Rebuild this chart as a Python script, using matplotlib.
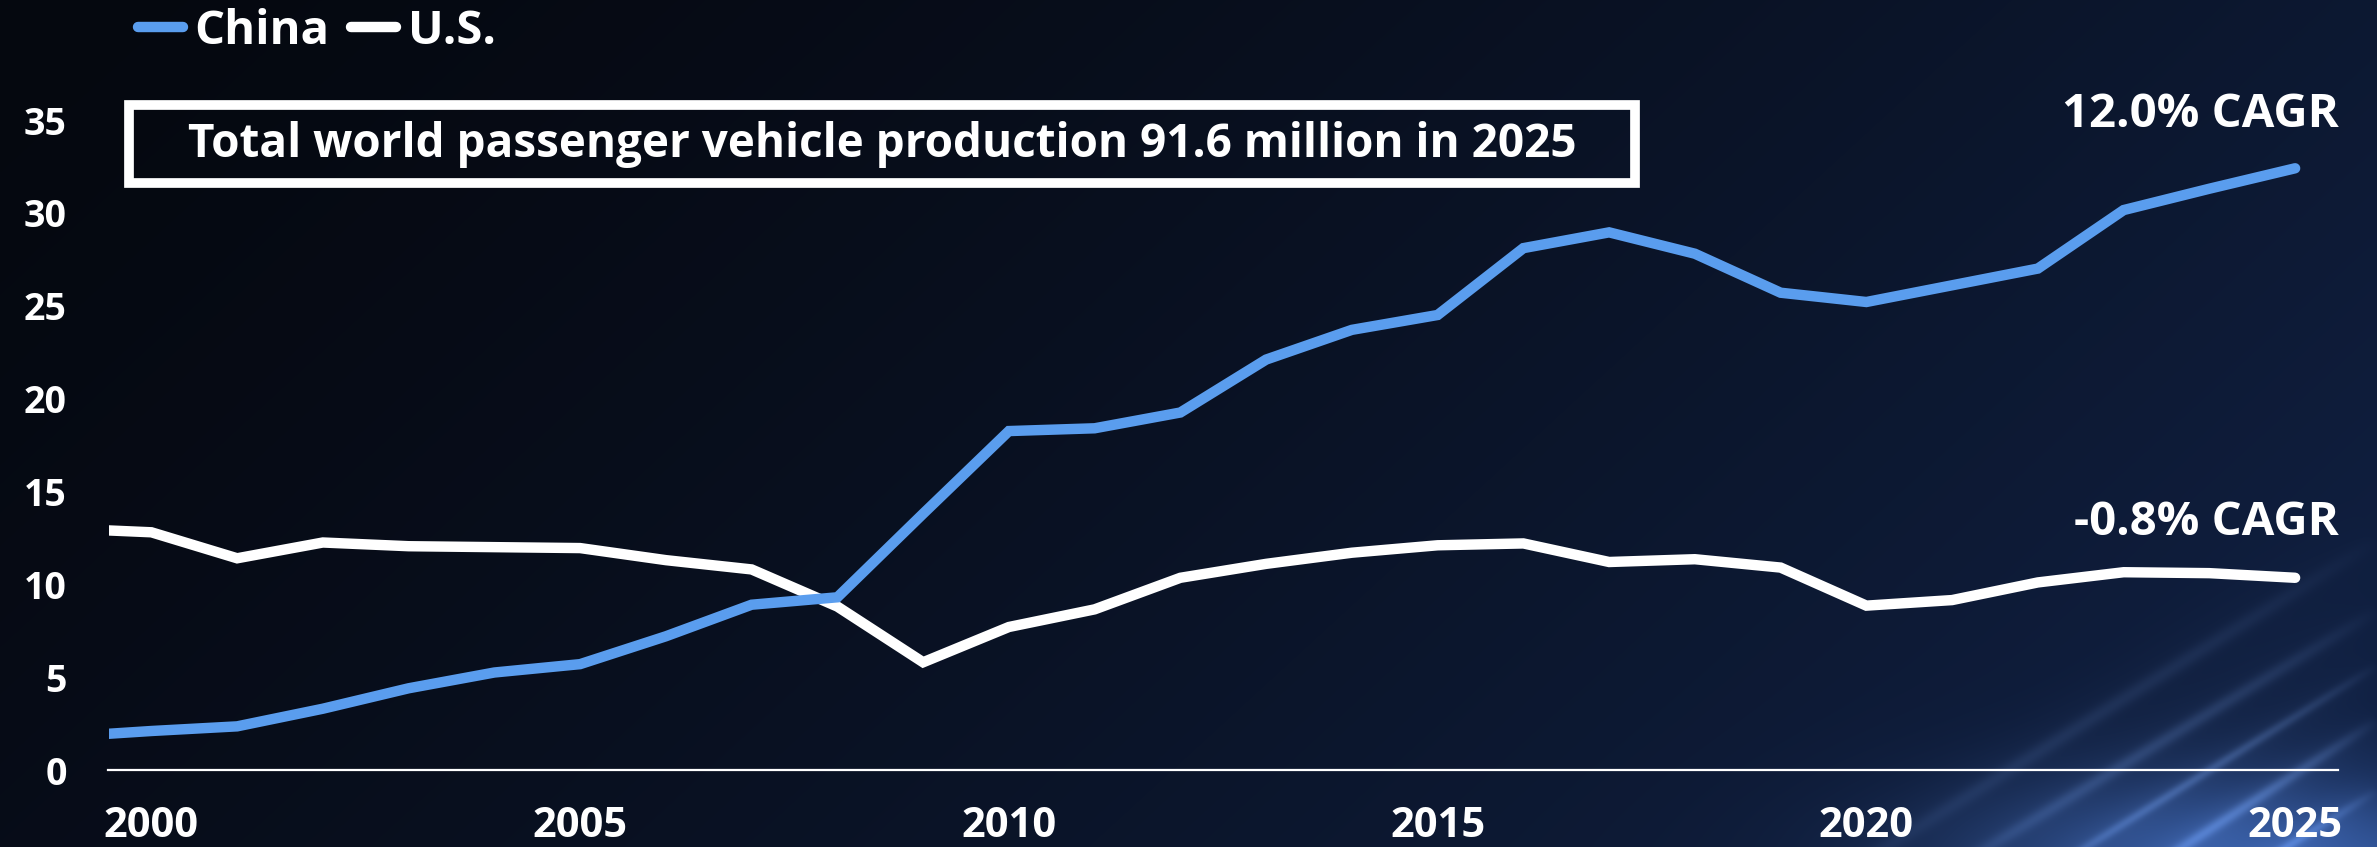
import numpy as np
import matplotlib
matplotlib.use("Agg")
import matplotlib.pyplot as plt
from matplotlib.patches import Rectangle

# ---------------- data ----------------
years = [1999, 2000, 2001, 2002, 2003, 2004, 2005, 2006, 2007, 2008, 2009,
         2010, 2011, 2012, 2013, 2014, 2015, 2016, 2017, 2018, 2019, 2020,
         2021, 2022, 2023, 2024, 2025]
china = [1.8, 2.1, 2.35, 3.3, 4.4, 5.25, 5.7, 7.2, 8.9, 9.3, 13.8,
         18.25, 18.4, 19.25, 22.1, 23.7, 24.5, 28.1, 28.95, 27.8, 25.7, 25.2,
         26.1, 27.0, 30.15, 31.3, 32.4]
us = [13.0, 12.8, 11.4, 12.25, 12.05, 12.0, 11.95, 11.3, 10.8, 8.8, 5.8,
      7.7, 8.65, 10.35, 11.1, 11.7, 12.1, 12.2, 11.2, 11.35, 10.9, 8.85,
      9.15, 10.1, 10.65, 10.6, 10.35]
series_names = ["China", "U.S."]
y_ticks = [0, 5, 10, 15, 20, 25, 30, 35]
x_ticks = [2000, 2005, 2010, 2015, 2020, 2025]
china_label = "12.0% CAGR"
us_label = "-0.8% CAGR"
box_text = "Total world passenger vehicle production 91.6 million in 2025"

# ---------------- style ----------------
W, H = 2377, 847
FONT = ["Open Sans", "DejaVu Sans"]
plt.rcParams["font.family"] = FONT
BLUE = "#5A9DEE"
WHITE = "#FFFFFF"

fig = plt.figure(figsize=(W / 100, H / 100), dpi=100)

# background gradient with soft light streaks (decoration only)
bg = fig.add_axes([0, 0, 1, 1])
bg.axis("off")
yy, xx = np.mgrid[0:H, 0:W].astype(float)
xn, yn = xx / W, yy / H
t = np.clip(0.72 * xn + 0.28 * yn, 0, 1) ** 1.4
c0 = np.array([5, 8, 15]) / 255.0
c1 = np.array([17, 34, 70]) / 255.0
img = c0 + (c1 - c0) * t[..., None]
glow = np.exp(-(((xn - 0.95) / 0.12) ** 2 + ((yn - 1.02) / 0.10) ** 2))
img += glow[..., None] * np.array([40, 62, 100]) / 255.0
streaks = [((1900, 900), (2377, 610), 7.0, 0.13),
           ((2000, 900), (2377, 665), 5.0, 0.18),
           ((2100, 900), (2377, 720), 6.0, 0.20),
           ((2200, 900), (2377, 790), 5.0, 0.17),
           ((1800, 900), (2377, 540), 8.0, 0.08)]
for (x0, y0), (x1, y1), w, a in streaks:
    dx, dy = x1 - x0, y1 - y0
    L = np.hypot(dx, dy)
    d = np.abs((xx - x0) * dy - (yy - y0) * dx) / L
    s = ((xx - x0) * dx + (yy - y0) * dy) / L ** 2
    fade = np.clip(np.sin(np.clip(s, 0, 1) * np.pi), 0, 1) ** 0.7
    inten = a * np.exp(-(d / w) ** 2) * fade + 0.25 * a * np.exp(-(d / (4 * w)) ** 2) * fade
    img += inten[..., None] * np.array([150, 185, 240]) / 255.0
img = np.clip(img, 0, 1)
bg.imshow(img, extent=[0, 1, 0, 1], aspect="auto", origin="upper", zorder=0)
bg.set_xlim(0, 1)
bg.set_ylim(0, 1)

# main axes
left_px, right_px, zero_px, top_px = 108.5, 2338, 770, 120
ax = fig.add_axes([left_px / W, (H - zero_px) / H,
                   (right_px - left_px) / W, (zero_px - top_px) / H])
ax.patch.set_alpha(0)
ax.set_xlim(1999.5, 2025.5)
ax.set_ylim(0, 35)

l_china, = ax.plot(years, china, color=BLUE, lw=7.5, solid_joinstyle="miter",
                   solid_capstyle="round", label=series_names[0], zorder=3)
l_us, = ax.plot(years, us, color=WHITE, lw=7.5, solid_joinstyle="miter",
                solid_capstyle="round", label=series_names[1], zorder=2)

for sp in ["top", "right", "left"]:
    ax.spines[sp].set_visible(False)
ax.spines["bottom"].set_color(WHITE)
ax.spines["bottom"].set_linewidth(1.6)
ax.set_yticks(y_ticks)
ax.set_xticks(x_ticks)
ax.tick_params(axis="both", length=0, colors=WHITE)
ax.tick_params(axis="y", pad=30, labelsize=27)
ax.tick_params(axis="x", pad=26, labelsize=30)
for lab in ax.get_xticklabels() + ax.get_yticklabels():
    lab.set_fontweight("bold")

# CAGR annotations anchored to last points
ax.annotate(china_label, xy=(years[-1], china[-1]), xytext=(44, 54),
            textcoords="offset pixels", ha="right", va="center",
            color=WHITE, fontsize=34, fontweight="bold", annotation_clip=False)
ax.annotate(us_label, xy=(years[-1], us[-1]), xytext=(44, 55),
            textcoords="offset pixels", ha="right", va="center",
            color=WHITE, fontsize=34, fontweight="bold", annotation_clip=False)

# legend at top-left
leg = fig.legend(handles=[l_china, l_us], loc="center left",
                 bbox_to_anchor=(138 / W, 1 - 31 / H), ncol=2, frameon=False,
                 fontsize=34, handlelength=0.95, handletextpad=0.25,
                 columnspacing=0.45, borderpad=0, borderaxespad=0)
for txt in leg.get_texts():
    txt.set_color(WHITE)
    txt.set_fontweight("bold")

# boxed headline
bx0, bx1, by0, by1 = 129, 1635, 105, 183
fig.patches.append(Rectangle((bx0 / W, 1 - by1 / H), (bx1 - bx0) / W,
                             (by1 - by0) / H, transform=fig.transFigure,
                             fill=False, edgecolor=WHITE, linewidth=7,
                             zorder=5))
fig.text((bx0 + bx1) / 2 / W, 1 - (by0 + by1) / 2 / H, box_text,
         ha="center", va="center", color=WHITE, fontsize=33,
         fontweight="bold")

fig.savefig("out.png", dpi=100)
